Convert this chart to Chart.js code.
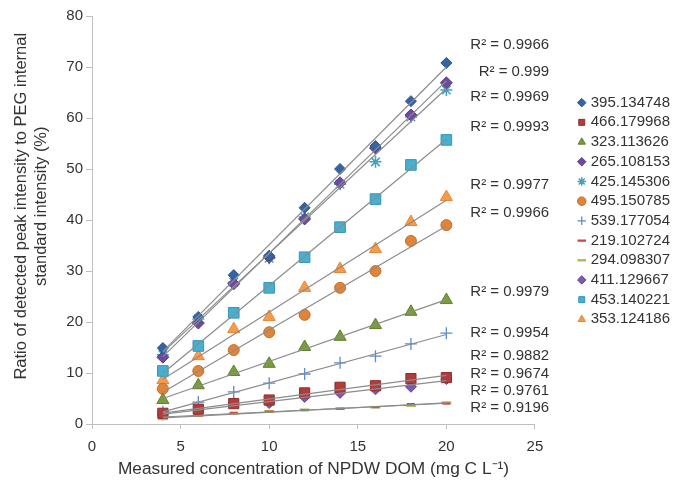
<!DOCTYPE html>
<html>
<head>
<meta charset="utf-8">
<script src="https://cdn.jsdelivr.net/npm/chart.js@4.4.0/dist/chart.umd.min.js"></script>
<style>
html,body{margin:0;padding:0;background:#fff}
#wrap{width:675px;height:482px;position:relative}
</style>
</head>
<body>
<div id="wrap"><canvas id="chart"></canvas></div>
<script>
'use strict';
Chart.defaults.font.family = "'Liberation Sans', Arial, sans-serif";
Chart.defaults.font.size = 15;
Chart.defaults.color = '#333';
Chart.defaults.animation = false;

// ── DATA ────────────────────────────────────────────────────────────────────
const conc = [4, 6, 8, 10, 12, 14, 16, 18, 20];   // mg C L-1
const names = ['395.134748','466.179968','323.113626','265.108153','425.145306','495.150785',
               '539.177054','219.102724','294.098307','411.129667','453.140221','353.124186'];
const s395 = [14.9, 21.0, 29.2, 33.0, 42.4, 50.0, 54.5, 63.3, 70.8];
const s466 = [2.1, 2.9, 4.0, 4.7, 6.1, 7.2, 7.5, 8.9, 9.1];
const s323 = [4.7, 7.6, 10.2, 11.8, 15.1, 17.1, 19.4, 22.0, 24.3];
const s265 = [13.1, 19.8, 27.5, 32.7, 40.2, 47.3, 54.1, 60.6, 66.9];
const s425 = [13.6, 20.6, 27.8, 32.5, 40.6, 47.0, 51.4, 60.2, 65.5];
const s495 = [6.9, 10.4, 14.5, 18.0, 21.4, 26.7, 30.0, 35.9, 39.0];
const s539 = [2.4, 4.3, 6.3, 8.0, 9.8, 12.0, 13.3, 15.7, 17.8];
const s219 = [1.3, 1.7, 2.2, 2.4, 2.7, 3.0, 3.3, 3.9, 4.0];
const s294 = [1.0, 1.6, 2.0, 2.5, 2.8, 3.0, 3.3, 3.6, 4.2];
const s411 = [1.8, 2.7, 4.1, 4.1, 5.3, 6.1, 6.8, 7.3, 8.8];
const s453 = [10.4, 15.3, 21.8, 26.7, 32.7, 38.6, 44.1, 50.8, 55.7];
const s353 = [8.6, 13.3, 18.6, 21.0, 26.7, 30.4, 34.3, 39.6, 44.5];
const series = [s395, s466, s323, s265, s425, s495, s539, s219, s294, s411, s453, s353];

// R² annotations shown at the right end of the fits
const r2Text = ['0.9966','0.999','0.9969','0.9993','0.9977','0.9966','0.9979','0.9954','0.9882','0.9674','0.9761','0.9196'];
const r2Y    = [74.3, 69.0, 64.1, 58.2, 46.9, 41.4, 25.9, 17.8, 13.3, 9.8, 6.5, 3.1];

// ── STYLES ──────────────────────────────────────────────────────────────────
const sty = [
  {ps:'rectRot',  r:5.5, bg:'#3464a4', bd:'#2a5389', bw:1},
  {ps:'rect',     r:7.2, bg:'#b03c3c', bd:'#8f2f2f', bw:1},
  {ps:'triangle', r:7,   bg:'#7a9c3c', bd:'#62802e', bw:1},
  {ps:'rectRot',  r:6,   bg:'#6e4a9e', bd:'#5a3c84', bw:1},
  {ps:'star',     r:6,   bg:'#4bacc6', bd:'#3fa3be', bw:1.5},
  {ps:'circle',   r:5.5, bg:'#e0843a', bd:'#c46e2a', bw:1},
  {ps:'cross',    r:6,   bg:'#5a8ad0', bd:'#5a8ad0', bw:1.3},
  {ps:'line',     r:4,   bg:'#d04545', bd:'#d04545', bw:2.2},
  {ps:'line',     r:5,   bg:'#a5c255', bd:'#a5c255', bw:2.5},
  {ps:'rectRot',  r:5.5, bg:'#7d5aae', bd:'#684896', bw:1},
  {ps:'rect',     r:7.5, bg:'#45b0d2', bd:'#3496b6', bw:1},
  {ps:'triangle', r:7,   bg:'#f79b4a', bd:'#e5863a', bw:1}
];

function linFit(xs, ys){
  const n = xs.length;
  const mx = xs.reduce((a,b)=>a+b,0)/n, my = ys.reduce((a,b)=>a+b,0)/n;
  let sxy = 0, sxx = 0;
  xs.forEach((x,i)=>{sxy += (x-mx)*(ys[i]-my); sxx += (x-mx)*(x-mx);});
  const b = sxy/sxx;
  return {a: my - b*mx, b};
}

const pointSets = series.map((ys,i)=>({
  label: names[i],
  data: conc.map((x,k)=>({x, y: ys[k]})),
  pointStyle: sty[i].ps, pointRadius: sty[i].r, pointHoverRadius: sty[i].r,
  backgroundColor: sty[i].bg, borderColor: sty[i].bd, borderWidth: sty[i].bw,
  showLine: false, order: 1
}));

const trendSets = series.map((ys,i)=>{
  const f = linFit(conc, ys), x0 = conc[0], x1 = conc[conc.length-1];
  return {
    label: 'trend ' + names[i],
    data: [{x:x0, y:f.a+f.b*x0}, {x:x1, y:f.a+f.b*x1}],
    type: 'line', showLine: true, pointRadius: 0, borderColor: '#8c8c8c',
    borderWidth: 1.2, fill: false, order: 0
  };
});

// ── R² LABELS ───────────────────────────────────────────────────────────────
const r2Plugin = {
  id: 'r2',
  afterLayout(chart){ chart.legend.top -= 9; chart.legend.bottom -= 9; },
  afterDraw(chart){
    const {ctx, scales:{x, y}} = chart;
    ctx.save();
    ctx.font = "15px 'Liberation Sans', Arial, sans-serif";
    ctx.fillStyle = '#333';
    ctx.textAlign = 'right';
    ctx.textBaseline = 'middle';
    r2Text.forEach((t,i)=>ctx.fillText('R² = ' + t, x.getPixelForValue(25.8), y.getPixelForValue(r2Y[i])));
    ctx.restore();
  }
};

const axisCol = '#bfbfbf';
new Chart(document.getElementById('chart'), {
  type: 'scatter',
  data: {datasets: pointSets.concat(trendSets)},
  options: {
    responsive: true, maintainAspectRatio: false,
    layout: {padding: {left: 0, right: -5, top: 16, bottom: 0}},
    plugins: {
      tooltip: {enabled: false},
      legend: {
        position: 'right', fullSize: false,
        labels: {
          usePointStyle: true, boxWidth: 3, boxHeight: 6, padding: 4.7, color: '#333',
          font: {size: 15},
          filter: item => item.datasetIndex < names.length
        }
      }
    },
    scales: {
      x: {
        type: 'linear', min: 0, max: 25,
        ticks: {stepSize: 5, padding: 9, color: '#333'},
        grid: {drawOnChartArea: false, tickLength: 5, color: axisCol},
        border: {color: axisCol},
        title: {display: true, text: 'Measured concentration of NPDW DOM (mg C L⁻¹)', color: '#333',
                font: {size: 17.3}, padding: {top: 0, bottom: 2}},
        afterFit: s => { s.height = 58; }
      },
      y: {
        min: 0, max: 80,
        ticks: {stepSize: 10, padding: 3, color: '#333'},
        grid: {drawOnChartArea: false, tickLength: 6, color: axisCol},
        border: {color: axisCol},
        // leading spaces nudge the centred title toward the top, as in the original
        title: {display: true, text: ['      Ratio of detected peak intensity to PEG internal', '      standard intensity (%)'],
                color: '#333', font: {size: 16.5}, padding: {top: 12, bottom: 0}},
        afterFit: s => { s.width = 92; }
      },
      gap: {
        type: 'linear', position: 'right', display: true,
        ticks: {display: false}, grid: {display: false}, border: {display: false},
        afterFit: s => { s.width = 40.6; }
      }
    }
  },
  plugins: [r2Plugin]
});
</script>
</body>
</html>
